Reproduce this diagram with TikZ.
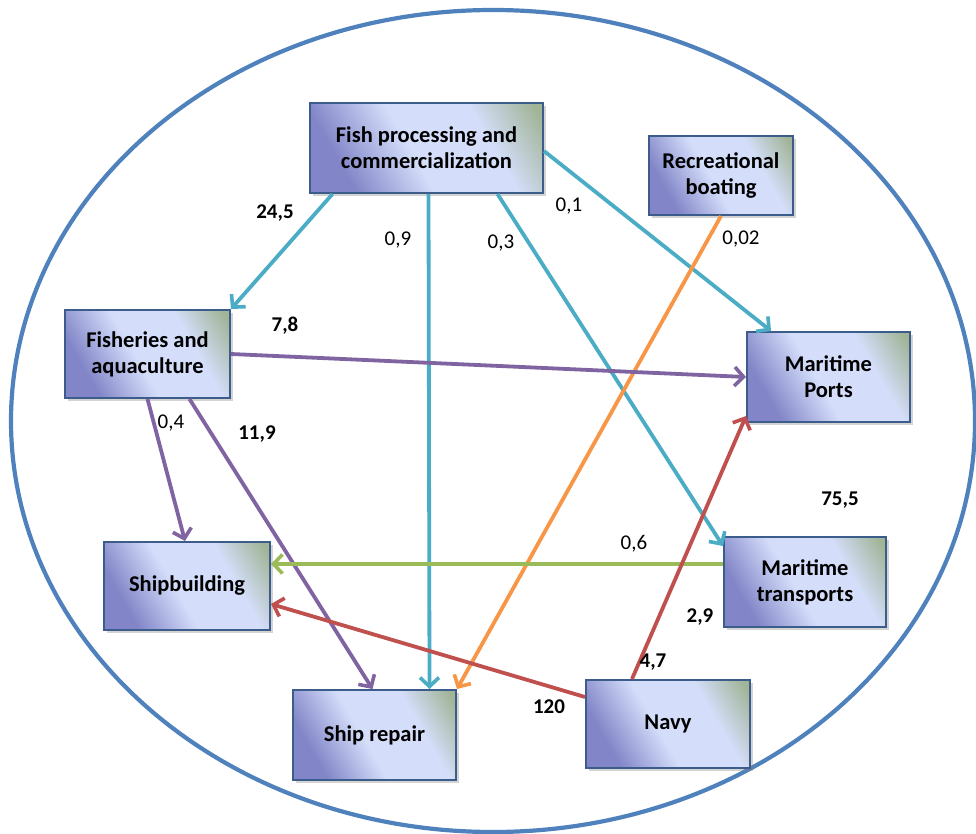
\documentclass[tikz,border=0pt]{standalone}
\usepackage{fontspec}
\setmainfont{Carlito}
\usetikzlibrary{arrows.meta,shadows}

\definecolor{ringblue}{RGB}{79,129,189}
\definecolor{flowcyan}{RGB}{75,172,198}
\definecolor{flowpurple}{RGB}{128,100,162}
\definecolor{floworange}{RGB}{247,150,70}
\definecolor{flowgreen}{RGB}{155,187,89}
\definecolor{flowred}{RGB}{192,80,77}
\definecolor{boxline}{RGB}{60,92,140}
\definecolor{boxlight}{RGB}{212,222,250}
\definecolor{boxdark}{RGB}{130,134,200}
\definecolor{boxgreen}{RGB}{160,180,150}

\pgfdeclarehorizontalshading{boxshade}{100bp}{color(0bp)=(boxdark); color(27bp)=(boxdark);
  color(46bp)=(boxlight); color(66bp)=(boxlight); color(82bp)=(boxgreen); color(100bp)=(boxgreen)}

\tikzset{
  sector/.style={draw=boxline, line width=2pt, align=center,
    font=\fontsize{22.5}{26}\selectfont\bfseries,
    shading=boxshade, shading angle=30,
    drop shadow={shadow xshift=3pt, shadow yshift=-3pt, opacity=.35}},
  flow/.style={line width=3.8pt, -{Straight Barb[length=9pt,width=19pt,line width=3.6pt]}},
  val/.style={font=\fontsize{21}{24}\selectfont},
  bigval/.style={font=\fontsize{21}{24}\selectfont\bfseries}
}

\begin{document}
\begin{tikzpicture}[x=1pt,y=-1pt]
  \useasboundingbox (0,0) rectangle (976,834);
  \draw[ringblue, line width=4.2pt] (493,421) ellipse [x radius=482, y radius=411];

  \node[sector, minimum width=233pt, minimum height=90pt] (fish) at (426.5,148) {Fish processing and\\commercialization};
  \node[sector, minimum width=144pt, minimum height=79pt] (boat) at (721,175.5) {Recreational\\boating};
  \node[sector, minimum width=165pt, minimum height=88pt] (fishaq) at (147.5,354) {Fisheries and\\aquaculture};
  \node[sector, minimum width=163pt, minimum height=90pt] (ports) at (828.5,377) {Maritime\\Ports};
  \node[sector, minimum width=166pt, minimum height=88pt] (shipb) at (187,586) {Shipbuilding};
  \node[sector, minimum width=162pt, minimum height=90pt] (trans) at (805,582) {Maritime\\transports};
  \node[sector, minimum width=163pt, minimum height=90pt] (repair) at (374.5,735) {Ship repair};
  \node[sector, minimum width=164pt, minimum height=88pt] (navy) at (668,724) {Navy};

  % flows
  \draw[flow, flowcyan] ([xshift=-94pt]fish.south) -- (fishaq.north east);
  \draw[flow, flowcyan] ([xshift=2pt]fish.south) -- ([xshift=55pt]repair.north);
  \draw[flow, flowcyan] ([xshift=71pt]fish.south) -- ([yshift=-10pt]trans.north west);
  \draw[flow, flowcyan] ([yshift=-3pt]fish.east) -- ([xshift=25pt]ports.north west);
  \draw[flow, floworange] (boat.south) -- (repair.north east);
  \draw[flow, flowpurple] (fishaq.east) -- (ports.west);
  \draw[flow, flowpurple] (fishaq.south) -- ([xshift=-2pt]shipb.north);
  \draw[flow, flowpurple] ([xshift=42pt]fishaq.south) -- ([xshift=-2pt]repair.north);
  \draw[flow, flowgreen] ([yshift=18pt]trans.west) -- ([yshift=22pt]shipb.east);
  \draw[flow, flowred] ([yshift=27pt]navy.west) -- ([yshift=-18pt]shipb.east);
  \draw[flow, flowred] ([xshift=-36pt]navy.north) -- ([yshift=7pt]ports.south west);

  \node[bigval] (v245) at (275,213) {24,5};
  \node[val] (v09) at (398,240) {0,9};
  \node[val] (v03) at (501,243) {0,3};
  \node[val] (v01) at (569,206) {0,1};
  \node[val] (v002) at (741,239) {0,02};
  \node[bigval] (v78) at (285,326) {7,8};
  \node[val] (v04) at (171,423) {0,4};
  \node[bigval] (v119) at (257,434) {11,9};
  \node[val] (v06) at (634,544) {0,6};
  \node[bigval] (v120) at (549,707) {120};
  \node[bigval] (v47) at (653,662) {4,7};
  \node[bigval] (v29) at (700,617) {2,9};
  \node[bigval] (v755) at (840,500) {75,5};
\end{tikzpicture}
\end{document}
